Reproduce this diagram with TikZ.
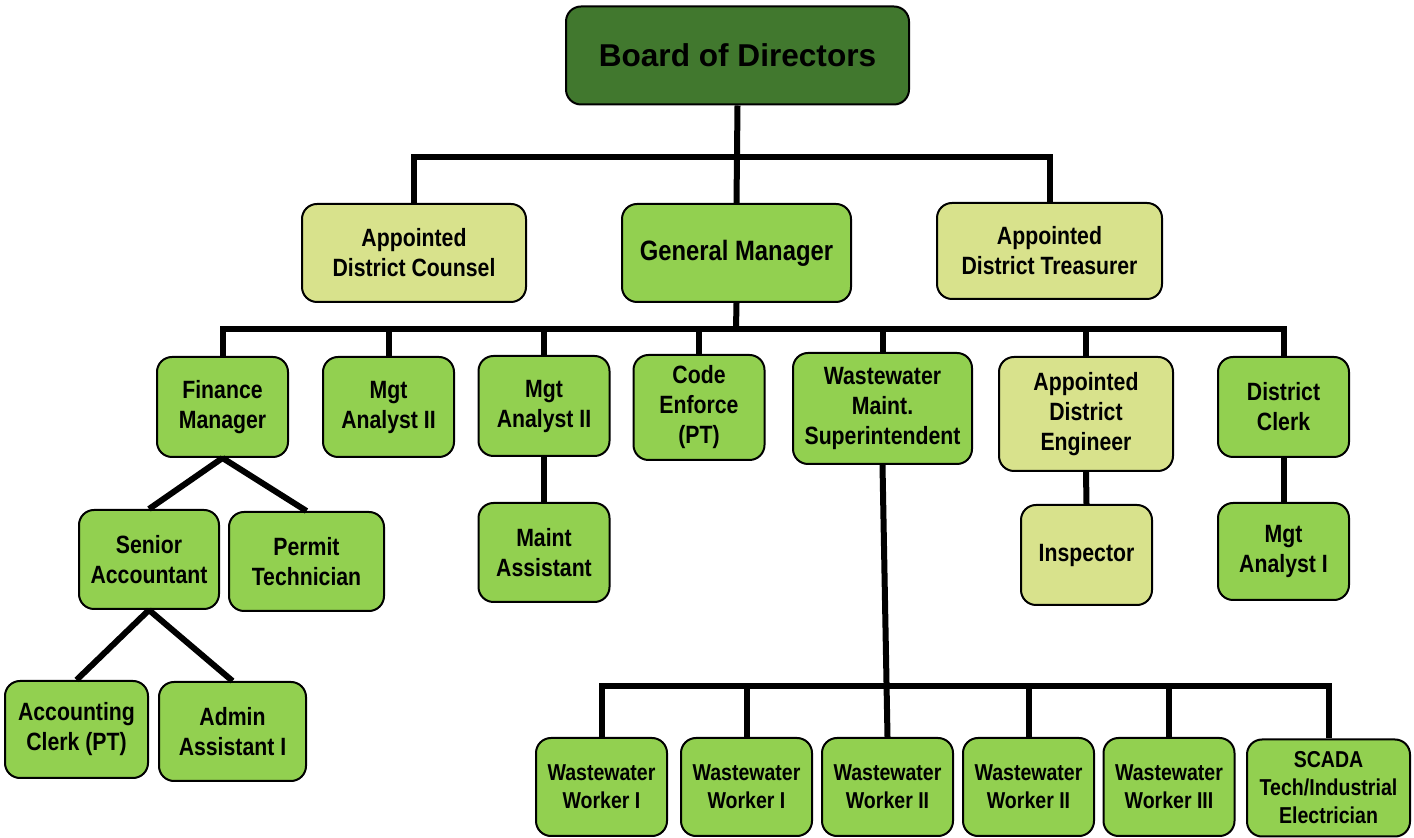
\documentclass[tikz,border=0pt]{standalone}
\usepackage{fontspec}
\usepackage{xcolor}
\usepackage{tikz}
\setmainfont{Liberation Sans}
\newfontfamily\narrowfont[FakeStretch=0.85]{Liberation Sans}
\definecolor{boardgreen}{RGB}{65,120,46}
\definecolor{staffgreen}{RGB}{146,208,80}
\definecolor{apptgreen}{RGB}{216,226,140}

\begin{document}
\begin{tikzpicture}[x=0.5pt,y=-0.5pt,line width=3pt,
  main node/.style={rectangle, rounded corners=7.5pt, draw, line width=1pt, fill=staffgreen,
    align=center, inner sep=1pt, minimum width=65.5pt, minimum height=50pt,
    font=\narrowfont\bfseries\fontsize{12.5}{15}\selectfont},
  appt node/.style={main node, fill=apptgreen},
  board node/.style={main node, fill=boardgreen, minimum width=171.5pt, minimum height=49pt,
    font=\bfseries\fontsize{15.8}{18}\selectfont},
  worker node/.style={main node, minimum height=49pt,
    font=\narrowfont\bfseries\fontsize{11.5}{14}\selectfont}]
  \useasboundingbox (0,0) rectangle (1414,838);
  % Nodes
  \node[board node] (1) at (737.5,55.5) {Board of Directors};
  \node[appt node, minimum width=112pt, minimum height=49pt] (2) at (414,253) {Appointed\\District Counsel};
  \node[main node, minimum width=114.5pt, minimum height=49pt,
    font=\narrowfont\bfseries\fontsize{14}{16}\selectfont] (3) at (736.5,253) {General Manager};
  \node[appt node, minimum width=112.5pt, minimum height=48pt] (4) at (1049.5,251) {Appointed\\District Treasurer};

  \node[main node] (5) at (222.5,407) {Finance\\Manager};
  \node[main node] (6) at (388.5,407) {Mgt\\Analyst II};
  \node[main node] (7) at (544,406) {Mgt\\Analyst II};
  \node[main node, minimum height=52.5pt] (8) at (699,407.5) {Code\\Enforce\\(PT)};
  \node[main node, minimum width=89.5pt, minimum height=55.5pt] (9) at (882.5,408.5) {Wastewater\\Maint.\\Superintendent};
  \node[appt node, minimum width=87pt, minimum height=57pt] (10) at (1086,414) {Appointed\\District\\Engineer};
  \node[main node] (11) at (1283.5,407) {District\\Clerk};

  \node[main node, minimum width=70pt, minimum height=49.5pt] (12) at (149,559.5) {Senior\\Accountant};
  \node[main node, minimum width=77.5pt, minimum height=49.5pt] (13) at (306.5,561.5) {Permit\\Technician};
  \node[main node, minimum height=49.5pt] (14) at (544,552.5) {Maint\\Assistant};
  \node[appt node] (15) at (1086.5,555) {Inspector};
  \node[main node, minimum height=48.5pt] (16) at (1283.5,551.5) {Mgt\\Analyst I};

  \node[main node, minimum width=71.5pt, minimum height=48.5pt] (17) at (76.5,729.5) {Accounting\\Clerk (PT)};
  \node[main node, minimum width=73.5pt, minimum height=49.5pt] (18) at (232.5,731.5) {Admin\\Assistant I};

  \node[worker node] (19) at (601.5,787) {Wastewater\\Worker I};
  \node[worker node] (20) at (746.5,787) {Wastewater\\Worker I};
  \node[worker node] (21) at (887.5,787) {Wastewater\\Worker II};
  \node[worker node] (22) at (1028.5,787) {Wastewater\\Worker II};
  \node[worker node] (23) at (1169,787) {Wastewater\\Worker III};
  \node[worker node, minimum width=81.5pt, minimum height=48.5pt] (24) at (1328.5,788) {SCADA\\Tech/Industrial\\Electrician};

  % Connectors
  \coordinate (top bus) at (737,157);
  \coordinate (mid bus) at (736,329);
  \coordinate (low bus) at (887,686);

  \draw (1.south) -- (3.north);
  \draw (2.north) |- (top bus) -| (4.north);

  \draw (3.south) -- (mid bus);
  \draw (5.north) |- (mid bus) -| (11.north);
  \foreach \n in {6,7,8,9,10}
    \draw (\n.north) -- (\n.north |- mid bus);

  \draw (5.south) -- (12.north);
  \draw (5.south) -- (13.north);
  \draw (12.south) -- (17.north);
  \draw (12.south) -- (18.north);

  \draw (7.south) -- (14.north);
  \draw (10.south) -- (15.north);
  \draw (11.south) -- (16.north);

  \draw (9.south) -- (21.north);
  \draw (19.north) |- (low bus) -| (24.north);
  \foreach \n in {20,22,23}
    \draw (\n.north) -- (\n.north |- low bus);
\end{tikzpicture}
\end{document}
